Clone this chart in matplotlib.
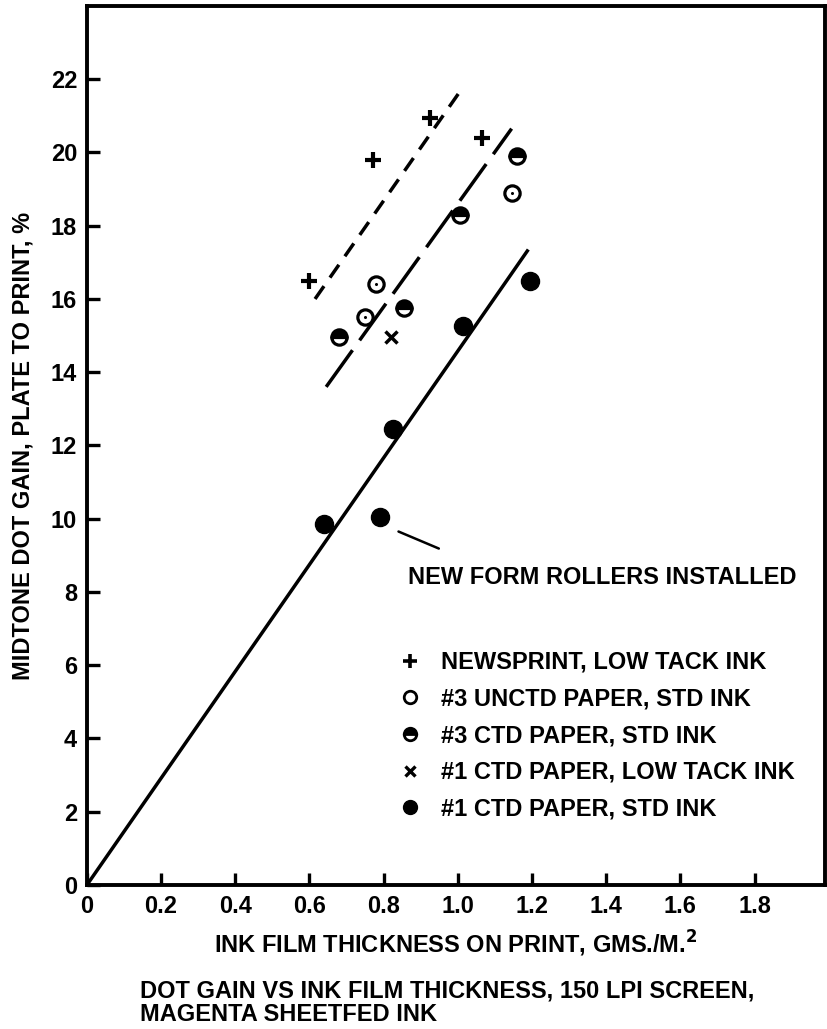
import matplotlib.pyplot as plt
from matplotlib.lines import Line2D

plt.rcParams['font.family'] = ['Liberation Sans', 'DejaVu Sans']
plt.rcParams['font.weight'] = 'bold'

# data
news_x = [0.60, 0.77, 0.925, 1.065]
news_y = [16.5, 19.8, 20.95, 20.4]
unctd_x = [0.75, 0.78, 1.145]
unctd_y = [15.5, 16.4, 18.9]
ctd3_x = [0.68, 0.855, 1.005, 1.16]
ctd3_y = [14.95, 15.75, 18.3, 19.9]
lowtack_x = [0.82]
lowtack_y = [14.95]
ctd1_x = [0.64, 0.79, 0.825, 1.015, 1.195]
ctd1_y = [9.85, 10.05, 12.45, 15.25, 16.5]

# fitted lines (end points)
solid_x = [0.0, 1.19]
solid_y = [0.0, 17.35]
mid_x = [0.645, 1.145]
mid_y = [13.6, 20.65]
top_x = [0.615, 1.015]
top_y = [16.0, 21.8]

xticks = [0, 0.2, 0.4, 0.6, 0.8, 1.0, 1.2, 1.4, 1.6, 1.8]
xlabels = ['0', '0.2', '0.4', '0.6', '0.8', '1.0', '1.2', '1.4', '1.6', '1.8']
yticks = list(range(0, 23, 2))

fs = 17

fig = plt.figure(figsize=(8.28, 10.29), dpi=100)
ax = fig.add_axes([0.105, 0.14, 0.8914, 0.8542])

ax.plot(solid_x, solid_y, color='black', lw=2.5, solid_capstyle='butt')
ax.plot(mid_x, mid_y, color='black', lw=2.5, dashes=(13, 3.5))
ax.plot(top_x, top_y, color='black', lw=2.5, dashes=(4.5, 3))

ms = 11
ax.plot(news_x, news_y, '+', color='black', ms=ms, mew=3, ls='none')
ax.plot(unctd_x, unctd_y, 'o', mfc='white', mec='black', ms=ms, mew=2.3, ls='none')
ax.plot(unctd_x, unctd_y, 'o', color='black', ms=1.2, ls='none')
ax.plot(ctd3_x, ctd3_y, 'o', fillstyle='top', mfc='black', mfcalt='white',
        mec='black', ms=ms, mew=2.3, ls='none')
ax.plot(lowtack_x, lowtack_y, 'x', color='black', ms=8, mew=2.5, ls='none')
ax.plot(ctd1_x, ctd1_y, 'o', color='black', ms=13, ls='none')

ax.annotate('NEW FORM ROLLERS INSTALLED', xy=(0.84, 9.65), xytext=(0.865, 8.4),
            fontsize=fs, fontweight='bold', va='center', ha='left',
            arrowprops=dict(arrowstyle='-', color='black', lw=1.8,
                            shrinkA=0, shrinkB=0, relpos=(0.08, 1.75)))

handles = [
    Line2D([], [], marker='+', color='black', ms=10, mew=2.6, ls='none'),
    Line2D([], [], marker='o', mfc='white', mec='black', ms=9, mew=2, ls='none'),
    Line2D([], [], marker='o', fillstyle='top', mfc='black', mfcalt='white',
           mec='black', ms=9, mew=2, ls='none'),
    Line2D([], [], marker='x', color='black', ms=7.5, mew=2.4, ls='none'),
    Line2D([], [], marker='o', color='black', ms=10, ls='none'),
]
labels = ['NEWSPRINT, LOW TACK INK', '#3 UNCTD PAPER, STD INK',
          '#3 CTD PAPER, STD INK', '#1 CTD PAPER, LOW TACK INK',
          '#1 CTD PAPER, STD INK']
leg = ax.legend(handles, labels, loc='upper left', bbox_to_anchor=(0.412, 0.277),
                frameon=False, handlelength=0.8, handletextpad=0.9,
                labelspacing=0.58, borderaxespad=0,
                prop={'size': fs, 'weight': 'bold'})

ax.set_xlim(0, 1.99)
ax.set_ylim(0, 24)
ax.set_xticks(xticks)
ax.set_xticklabels(xlabels)
ax.set_yticks(yticks)
ax.tick_params(direction='in', length=9, width=2.4, labelsize=fs, pad=7)
for s in ax.spines.values():
    s.set_linewidth(2.8)

ax.set_xlabel('INK FILM THICKNESS ON PRINT, GMS./M.$^\\mathbf{2}$', fontsize=fs,
              fontweight='bold', labelpad=8)
ax.set_ylabel('MIDTONE DOT GAIN, PLATE TO PRINT, %', fontsize=fs,
              fontweight='bold', labelpad=12)
fig.text(0.169, 0.003, 'DOT GAIN VS INK FILM THICKNESS, 150 LPI SCREEN,\nMAGENTA SHEETFED INK',
         fontsize=fs, fontweight='bold', ha='left', va='bottom', linespacing=1.0)

fig.savefig('out.png', dpi=100)
